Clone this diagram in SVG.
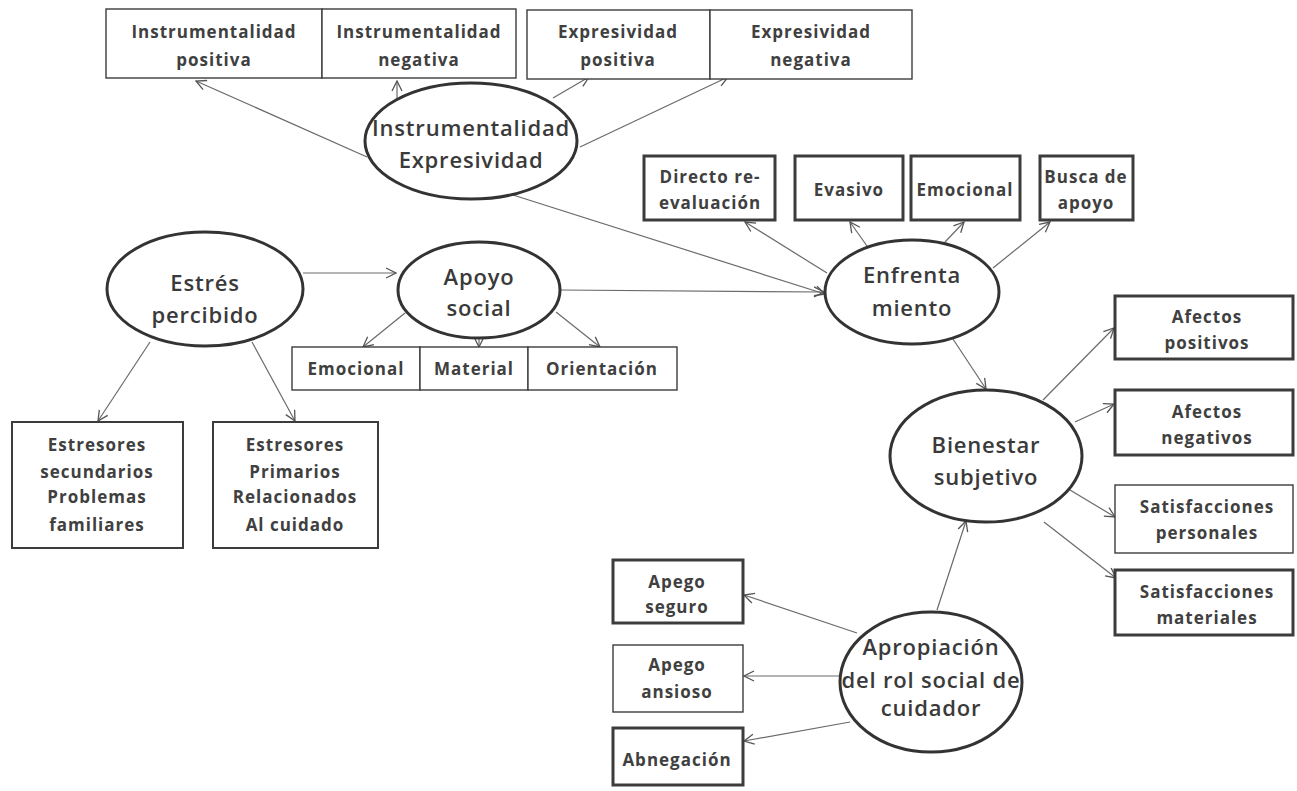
<svg xmlns="http://www.w3.org/2000/svg" width="1297" height="791" viewBox="0 0 1297 791">
<style>
.bg{fill:#fff}
.box{fill:#fff;stroke:#3c3c3c;stroke-width:1.4}
.med{stroke-width:2}
.thk{stroke-width:3}
.ell{fill:#fff;stroke:#333;stroke-width:3}
.bt{font-family:"Open Sans","Liberation Sans",sans-serif;font-weight:700;font-size:17px;letter-spacing:1px;fill:#404040;text-anchor:middle}
.et{font-family:"Open Sans","Liberation Sans",sans-serif;font-weight:600;font-size:22px;letter-spacing:0.8px;fill:#3a3a3a;text-anchor:middle}
.cn{fill:none;stroke:#6a6a6a;stroke-width:1.2}
</style>
<defs>
<marker id="ah" viewBox="0 0 12 12" refX="11" refY="6" markerWidth="12" markerHeight="12" markerUnits="userSpaceOnUse" orient="auto">
<path d="M1,1 L11,6 L1,11" fill="none" stroke="#555" stroke-width="1.3"/>
</marker>
</defs>
<rect class="bg" x="0" y="0" width="1297" height="791"/>

<g id="connectors">
<line class="cn" x1="367" y1="157" x2="196" y2="81" marker-end="url(#ah)"/>
<line class="cn" x1="397" y1="98" x2="397" y2="81" marker-end="url(#ah)"/>
<line class="cn" x1="553" y1="98" x2="589" y2="77" marker-end="url(#ah)"/>
<line class="cn" x1="580" y1="147" x2="728" y2="77" marker-end="url(#ah)"/>
<line class="cn" x1="513" y1="195" x2="825" y2="294" marker-end="url(#ah)"/>
<line class="cn" x1="303" y1="273" x2="396" y2="273" marker-end="url(#ah)"/>
<line class="cn" x1="560" y1="290" x2="824" y2="292" marker-end="url(#ah)"/>
<line class="cn" x1="405" y1="313" x2="363" y2="347" marker-end="url(#ah)"/>
<line class="cn" x1="479" y1="338" x2="479" y2="347" marker-end="url(#ah)"/>
<line class="cn" x1="556" y1="312" x2="600" y2="347" marker-end="url(#ah)"/>
<line class="cn" x1="150" y1="342" x2="98" y2="421" marker-end="url(#ah)"/>
<line class="cn" x1="252" y1="342" x2="295" y2="421" marker-end="url(#ah)"/>
<line class="cn" x1="827" y1="273" x2="745" y2="222" marker-end="url(#ah)"/>
<line class="cn" x1="867" y1="246" x2="850" y2="222" marker-end="url(#ah)"/>
<line class="cn" x1="945" y1="242" x2="964" y2="222" marker-end="url(#ah)"/>
<line class="cn" x1="993" y1="268" x2="1050" y2="222" marker-end="url(#ah)"/>
<line class="cn" x1="945" y1="327" x2="986" y2="389" marker-end="url(#ah)"/>
<line class="cn" x1="1043" y1="400" x2="1114" y2="328" marker-end="url(#ah)"/>
<line class="cn" x1="1075" y1="422" x2="1114" y2="404" marker-end="url(#ah)"/>
<line class="cn" x1="1065" y1="487" x2="1115" y2="517" marker-end="url(#ah)"/>
<line class="cn" x1="1044" y1="522" x2="1116" y2="578" marker-end="url(#ah)"/>
<line class="cn" x1="937" y1="610" x2="966" y2="521" marker-end="url(#ah)"/>
<line class="cn" x1="857" y1="633" x2="744" y2="595" marker-end="url(#ah)"/>
<line class="cn" x1="839" y1="676" x2="744" y2="676" marker-end="url(#ah)"/>
<line class="cn" x1="850" y1="722" x2="744" y2="741" marker-end="url(#ah)"/>
</g>

<g id="n-inst-pos"><rect class="box" x="106" y="9" width="216" height="69"/><text class="bt" x="214" y="38">Instrumentalidad</text><text class="bt" x="214" y="66">positiva</text></g>
<g id="n-inst-neg"><rect class="box" x="322" y="9" width="194" height="69"/><text class="bt" x="419" y="38">Instrumentalidad</text><text class="bt" x="419" y="66">negativa</text></g>
<g id="n-exp-pos"><rect class="box" x="527" y="10" width="183" height="69"/><text class="bt" x="618" y="38">Expresividad</text><text class="bt" x="618" y="66">positiva</text></g>
<g id="n-exp-neg"><rect class="box" x="710" y="10" width="202" height="69"/><text class="bt" x="811" y="38">Expresividad</text><text class="bt" x="811" y="66">negativa</text></g>

<g id="n-ie"><ellipse class="ell" cx="471" cy="141" rx="106" ry="58"/><text class="et" x="471" y="136">Instrumentalidad</text><text class="et" x="471" y="168">Expresividad</text></g>

<g id="n-directo"><rect class="box thk" x="644" y="156" width="131" height="64"/><text class="bt" x="710" y="183">Directo re-</text><text class="bt" x="710" y="209">evaluación</text></g>
<g id="n-evasivo"><rect class="box thk" x="795" y="156" width="108" height="64"/><text class="bt" x="849" y="196">Evasivo</text></g>
<g id="n-emoc-c"><rect class="box thk" x="911" y="156" width="109" height="64"/><text class="bt" x="965" y="196">Emocional</text></g>
<g id="n-busca"><rect class="box thk" x="1040" y="156" width="93" height="64"/><text class="bt" x="1086" y="183">Busca de</text><text class="bt" x="1086" y="209">apoyo</text></g>

<g id="n-enfr"><ellipse class="ell" cx="912" cy="292" rx="87" ry="52"/><text class="et" x="912" y="283">Enfrenta</text><text class="et" x="912" y="316">miento</text></g>

<g id="n-estres"><ellipse class="ell" cx="205" cy="289" rx="98" ry="57"/><text class="et" x="205" y="291">Estrés</text><text class="et" x="205" y="323">percibido</text></g>

<g id="n-apoyo"><ellipse class="ell" cx="479" cy="290" rx="81" ry="48"/><text class="et" x="479" y="285">Apoyo</text><text class="et" x="479" y="316">social</text></g>

<g id="n-emoc-a"><rect class="box" x="292" y="347" width="128" height="43"/><text class="bt" x="356" y="375">Emocional</text></g>
<g id="n-material"><rect class="box" x="420" y="347" width="108" height="43"/><text class="bt" x="474" y="375">Material</text></g>
<g id="n-orient"><rect class="box" x="528" y="347" width="149" height="43"/><text class="bt" x="602" y="375">Orientación</text></g>

<g id="n-est-sec"><rect class="box med" x="12" y="422" width="171" height="126"/><text class="bt" x="97" y="451">Estresores</text><text class="bt" x="97" y="478">secundarios</text><text class="bt" x="97" y="503">Problemas</text><text class="bt" x="97" y="531">familiares</text></g>
<g id="n-est-pri"><rect class="box med" x="213" y="422" width="165" height="126"/><text class="bt" x="295" y="451">Estresores</text><text class="bt" x="295" y="478">Primarios</text><text class="bt" x="295" y="503">Relacionados</text><text class="bt" x="295" y="531">Al cuidado</text></g>

<g id="n-bien"><ellipse class="ell" cx="986" cy="456" rx="96" ry="66"/><text class="et" x="986" y="453">Bienestar</text><text class="et" x="986" y="485">subjetivo</text></g>

<g id="n-af-pos"><rect class="box thk" x="1115" y="296" width="178" height="63"/><text class="bt" x="1207" y="323">Afectos</text><text class="bt" x="1207" y="349">positivos</text></g>
<g id="n-af-neg"><rect class="box thk" x="1115" y="390" width="178" height="65"/><text class="bt" x="1207" y="418">Afectos</text><text class="bt" x="1207" y="444">negativos</text></g>
<g id="n-sat-per"><rect class="box" x="1115" y="485" width="178" height="68"/><text class="bt" x="1207" y="513">Satisfacciones</text><text class="bt" x="1207" y="539">personales</text></g>
<g id="n-sat-mat"><rect class="box thk" x="1115" y="570" width="178" height="65"/><text class="bt" x="1207" y="598">Satisfacciones</text><text class="bt" x="1207" y="624">materiales</text></g>

<g id="n-aprop"><ellipse class="ell" cx="931" cy="682" rx="91" ry="70"/><text class="et" x="931" y="655">Apropiación</text><text class="et" x="931" y="688">del rol social de</text><text class="et" x="931" y="716">cuidador</text></g>

<g id="n-ap-seg"><rect class="box thk" x="613" y="560" width="130" height="63"/><text class="bt" x="677" y="588">Apego</text><text class="bt" x="677" y="613">seguro</text></g>
<g id="n-ap-ans"><rect class="box" x="613" y="645" width="130" height="67"/><text class="bt" x="677" y="671">Apego</text><text class="bt" x="677" y="698">ansioso</text></g>
<g id="n-abneg"><rect class="box thk" x="613" y="728" width="130" height="57"/><text class="bt" x="677" y="766">Abnegación</text></g>
</svg>
